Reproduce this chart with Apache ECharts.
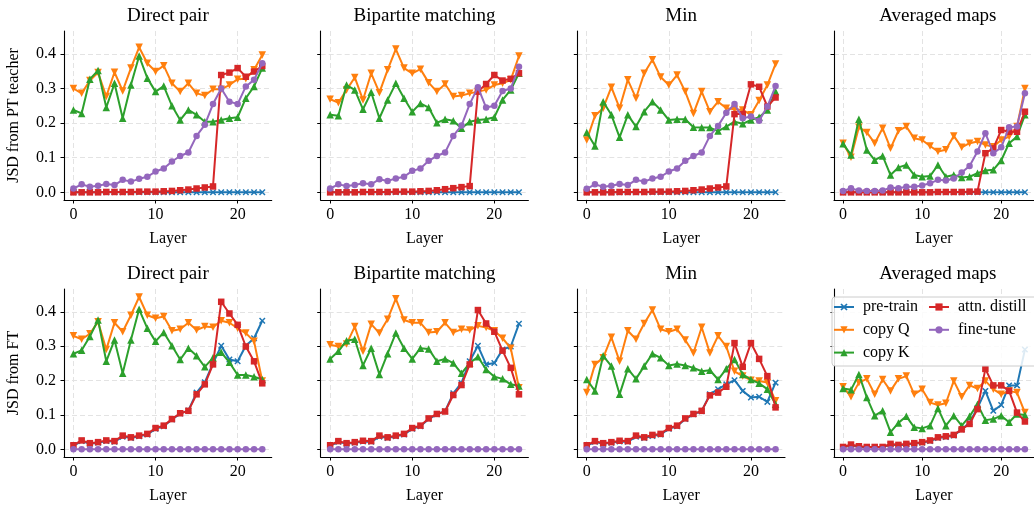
<!DOCTYPE html>
<html>
<head>
<meta charset="utf-8">
<script src="https://cdn.jsdelivr.net/npm/echarts@6/dist/echarts.min.js"></script>
<style>html,body{margin:0;padding:0;background:#fff}#chart{width:1034px;height:505px}</style>
</head>
<body>
<div id="chart"></div>
<script>
const layers = [0,1,2,3,4,5,6,7,8,9,10,11,12,13,14,15,16,17,18,19,20,21,22,23];
const seriesNames = ['pre-train','copy Q','copy K','attn. distill','fine-tune'];
const panelTitles = ['Direct pair','Bipartite matching','Min','Averaged maps'];
const rowLabels = ['JSD from PT teacher','JSD from FT'];
const xTicks = [0,10,20];
const yTicks = [0,0.1,0.2,0.3,0.4];

// Row 1: JSD from PT teacher
const ptDirect_pretrain = [0,0,0,0,0,0,0,0,0,0,0,0,0,0,0,0,0,0,0,0,0,0,0,0];
const ptDirect_copyQ = [0.30,0.286,0.323,0.346,0.277,0.347,0.293,0.359,0.419,0.373,0.349,0.366,0.315,0.291,0.315,0.286,0.28,0.298,0.298,0.31,0.327,0.328,0.354,0.397];
const ptDirect_copyK = [0.238,0.228,0.327,0.352,0.245,0.315,0.214,0.31,0.394,0.33,0.291,0.307,0.25,0.209,0.238,0.224,0.204,0.204,0.209,0.214,0.217,0.272,0.306,0.359];
const ptDirect_attn = [0,0,0,0,0.001,0.001,0.001,0.001,0.002,0.002,0.002,0.003,0.004,0.006,0.008,0.011,0.014,0.017,0.339,0.346,0.359,0.334,0.349,0.365];
const ptDirect_ft = [0.011,0.023,0.016,0.019,0.024,0.021,0.036,0.031,0.039,0.045,0.06,0.069,0.089,0.105,0.115,0.163,0.195,0.255,0.30,0.262,0.255,0.306,0.325,0.373];

const ptBip_pretrain = [0,0,0,0,0,0,0,0,0,0,0,0,0,0,0,0,0,0,0,0,0,0,0,0];
const ptBip_copyQ = [0.269,0.259,0.296,0.332,0.267,0.344,0.288,0.354,0.414,0.359,0.344,0.356,0.317,0.291,0.313,0.277,0.28,0.286,0.291,0.296,0.31,0.315,0.325,0.394];
const ptBip_copyK = [0.224,0.221,0.31,0.296,0.24,0.289,0.214,0.267,0.315,0.272,0.233,0.257,0.245,0.201,0.211,0.207,0.185,0.204,0.209,0.211,0.217,0.267,0.296,0.344];
const ptBip_attn = [0,0,0,0,0.001,0.001,0.001,0.001,0.002,0.002,0.002,0.003,0.004,0.006,0.009,0.012,0.015,0.018,0.291,0.313,0.339,0.323,0.328,0.344];
const ptBip_ft = [0.011,0.023,0.018,0.021,0.026,0.023,0.038,0.033,0.04,0.045,0.062,0.069,0.091,0.105,0.115,0.163,0.193,0.255,0.304,0.245,0.25,0.293,0.30,0.363];

const ptMin_pretrain = [0,0,0,0,0,0,0,0,0,0,0,0,0,0,0,0,0,0,0,0,0,0,0,0];
const ptMin_copyQ = [0.151,0.221,0.243,0.304,0.243,0.325,0.272,0.344,0.383,0.333,0.31,0.339,0.291,0.228,0.291,0.233,0.262,0.243,0.24,0.238,0.224,0.265,0.31,0.371];
const ptMin_copyK = [0.173,0.134,0.262,0.224,0.159,0.224,0.19,0.233,0.262,0.238,0.209,0.211,0.211,0.188,0.187,0.187,0.177,0.19,0.204,0.198,0.209,0.217,0.238,0.291];
const ptMin_attn = [0,0,0,0,0.001,0.001,0.001,0.001,0.002,0.002,0.002,0.003,0.004,0.006,0.008,0.011,0.014,0.017,0.226,0.226,0.312,0.305,0.248,0.274];
const ptMin_ft = [0.01,0.023,0.016,0.019,0.024,0.021,0.036,0.031,0.04,0.045,0.06,0.069,0.091,0.105,0.115,0.163,0.192,0.23,0.255,0.214,0.219,0.207,0.248,0.307];

const ptAvg_pretrain = [0,0,0,0,0,0,0,0,0,0,0,0,0,0,0,0,0,0,0,0,0,0,0,0];
const ptAvg_copyQ = [0.142,0.101,0.188,0.173,0.142,0.185,0.127,0.178,0.19,0.156,0.151,0.134,0.118,0.123,0.163,0.13,0.142,0.147,0.137,0.132,0.151,0.161,0.19,0.30];
const ptAvg_copyK = [0.14,0.108,0.211,0.122,0.093,0.105,0.05,0.072,0.079,0.05,0.045,0.047,0.079,0.045,0.05,0.043,0.045,0.055,0.063,0.065,0.092,0.142,0.161,0.224];
const ptAvg_attn = [0,0,0,0,0,0,0,0,0,0,0,0,0.001,0.001,0.001,0.001,0.002,0.002,0.113,0.127,0.18,0.175,0.175,0.233];
const ptAvg_ft = [0.004,0.012,0.005,0.004,0.004,0.005,0.014,0.012,0.016,0.016,0.02,0.026,0.036,0.034,0.04,0.057,0.076,0.118,0.171,0.113,0.13,0.188,0.19,0.286];

// Row 2: JSD from FT
const ftDirect_pretrain = [0.010,0.024,0.016,0.019,0.024,0.022,0.037,0.033,0.038,0.043,0.06,0.067,0.087,0.104,0.113,0.165,0.195,0.25,0.301,0.261,0.256,0.301,0.323,0.374];
const ftDirect_copyQ = [0.33,0.32,0.336,0.371,0.29,0.368,0.342,0.39,0.443,0.39,0.381,0.386,0.345,0.349,0.368,0.347,0.357,0.355,0.374,0.368,0.352,0.338,0.314,0.199];
const ftDirect_copyK = [0.278,0.288,0.328,0.376,0.256,0.318,0.221,0.318,0.407,0.352,0.314,0.34,0.301,0.261,0.294,0.272,0.24,0.266,0.282,0.253,0.216,0.216,0.211,0.203];
const ftDirect_attn = [0.012,0.026,0.018,0.021,0.026,0.024,0.04,0.035,0.04,0.045,0.062,0.069,0.088,0.105,0.112,0.16,0.189,0.247,0.429,0.395,0.362,0.299,0.256,0.192];
const ftDirect_ft = [0,0,0,0,0,0,0,0,0,0,0,0,0,0,0,0,0,0,0,0,0,0,0,0];

const ftBip_pretrain = [0.010,0.022,0.016,0.019,0.023,0.022,0.037,0.033,0.038,0.043,0.06,0.067,0.088,0.102,0.111,0.163,0.193,0.256,0.301,0.247,0.251,0.29,0.299,0.365];
const ftBip_copyQ = [0.304,0.299,0.306,0.357,0.285,0.364,0.338,0.378,0.438,0.376,0.368,0.368,0.34,0.342,0.368,0.34,0.349,0.347,0.359,0.354,0.345,0.323,0.294,0.179];
const ftBip_copyK = [0.263,0.285,0.316,0.32,0.244,0.294,0.218,0.278,0.338,0.294,0.263,0.294,0.292,0.256,0.263,0.251,0.221,0.251,0.269,0.232,0.211,0.205,0.189,0.184];
const ftBip_attn = [0.012,0.024,0.018,0.021,0.025,0.024,0.04,0.035,0.04,0.045,0.062,0.069,0.09,0.103,0.11,0.158,0.187,0.247,0.405,0.366,0.342,0.287,0.237,0.16];
const ftBip_ft = [0,0,0,0,0,0,0,0,0,0,0,0,0,0,0,0,0,0,0,0,0,0,0,0];

const ftMin_pretrain = [0.010,0.022,0.016,0.019,0.023,0.022,0.037,0.033,0.039,0.043,0.06,0.067,0.088,0.102,0.111,0.16,0.175,0.189,0.201,0.17,0.151,0.153,0.138,0.194];
const ftMin_copyQ = [0.165,0.247,0.266,0.326,0.256,0.345,0.32,0.366,0.405,0.349,0.342,0.349,0.318,0.28,0.355,0.28,0.33,0.299,0.227,0.213,0.201,0.199,0.194,0.141];
const ftMin_copyK = [0.203,0.17,0.272,0.242,0.16,0.234,0.205,0.242,0.278,0.266,0.244,0.248,0.244,0.237,0.227,0.23,0.203,0.234,0.261,0.218,0.203,0.192,0.175,0.131];
const ftMin_attn = [0.012,0.024,0.018,0.021,0.025,0.024,0.04,0.035,0.042,0.045,0.062,0.069,0.09,0.103,0.112,0.157,0.165,0.182,0.309,0.24,0.309,0.263,0.213,0.122];
const ftMin_ft = [0,0,0,0,0,0,0,0,0,0,0,0,0,0,0,0,0,0,0,0,0,0,0,0];

const ftAvg_pretrain = [0.005,0.012,0.007,0.006,0.006,0.006,0.014,0.011,0.014,0.016,0.019,0.024,0.033,0.036,0.04,0.058,0.078,0.12,0.17,0.112,0.129,0.186,0.186,0.29];
const ftAvg_copyQ = [0.182,0.153,0.194,0.205,0.16,0.203,0.17,0.205,0.213,0.16,0.175,0.136,0.129,0.134,0.199,0.153,0.186,0.177,0.199,0.175,0.16,0.17,0.165,0.107];
const ftAvg_copyK = [0.177,0.173,0.218,0.151,0.098,0.112,0.05,0.077,0.096,0.064,0.061,0.069,0.119,0.069,0.098,0.069,0.096,0.131,0.085,0.088,0.098,0.079,0.103,0.1];
const ftAvg_attn = [0.007,0.014,0.009,0.007,0.007,0.007,0.016,0.013,0.016,0.018,0.021,0.026,0.035,0.038,0.042,0.058,0.074,0.117,0.234,0.186,0.186,0.17,0.107,0.081];
const ftAvg_ft = [0,0,0,0,0,0,0,0,0,0,0,0,0,0,0,0,0,0,0,0,0,0,0,0];

const panels = [
  [ptDirect_pretrain, ptDirect_copyQ, ptDirect_copyK, ptDirect_attn, ptDirect_ft],
  [ptBip_pretrain, ptBip_copyQ, ptBip_copyK, ptBip_attn, ptBip_ft],
  [ptMin_pretrain, ptMin_copyQ, ptMin_copyK, ptMin_attn, ptMin_ft],
  [ptAvg_pretrain, ptAvg_copyQ, ptAvg_copyK, ptAvg_attn, ptAvg_ft],
  [ftDirect_pretrain, ftDirect_copyQ, ftDirect_copyK, ftDirect_attn, ftDirect_ft],
  [ftBip_pretrain, ftBip_copyQ, ftBip_copyK, ftBip_attn, ftBip_ft],
  [ftMin_pretrain, ftMin_copyQ, ftMin_copyK, ftMin_attn, ftMin_ft],
  [ftAvg_pretrain, ftAvg_copyQ, ftAvg_copyK, ftAvg_attn, ftAvg_ft]
];

const FONT = "'Liberation Serif', 'Times New Roman', serif";
const colors = ['#1f77b4','#ff7f0e','#2ca02c','#d62728','#9467bd'];
const xSym = 'path://M0,1.6L1.6,0L5,3.4L8.4,0L10,1.6L6.6,5L10,8.4L8.4,10L5,6.6L1.6,10L0,8.4L3.4,5Z';
const downTri = 'path://M0,0L10,0L5,9Z';
const symbols = [xSym, downTri, 'triangle', 'rect', 'circle'];
const symSizes = [6.5, 7.5, 7.5, 6.5, 6.5];

const colLefts = [64, 320.7, 577.3, 834];
const gridW = 207.7;
const rowTops = [31, 289];
const gridH = 169;

const grids = [], xAxes = [], yAxes = [], series = [], graphics = [];
for (let p = 0; p < 8; p++) {
  const r = Math.floor(p / 4), c = p % 4;
  grids.push({left: colLefts[c], top: rowTops[r], width: gridW, height: gridH, containLabel: false});
  xAxes.push({
    type: 'value', gridIndex: p, min: -1.15, max: 24.15,
    name: 'Layer', nameLocation: 'middle', nameGap: 31,
    nameTextStyle: {fontFamily: FONT, fontSize: 16, color: '#000'},
    axisLine: {onZero: false, lineStyle: {color: '#000', width: 1.1}},
    axisTick: {show: true, length: 3.5, lineStyle: {color: '#000', width: 1}, customValues: xTicks},
    axisLabel: {fontFamily: FONT, fontSize: 16, color: '#000', margin: 7, customValues: xTicks},
    splitLine: {show: true, lineStyle: {color: '#e3e3e3', width: 1, type: [5, 3]}}
  });
  yAxes.push({
    type: 'value', gridIndex: p, min: -0.0222, max: 0.4662,
    name: c === 0 ? rowLabels[r] : '', nameLocation: 'middle', nameGap: 42, nameRotate: 90,
    nameTextStyle: {fontFamily: FONT, fontSize: 16, color: '#000'},
    axisLine: {show: true, onZero: false, lineStyle: {color: '#000', width: 1.1}},
    axisTick: {show: true, length: 3.5, lineStyle: {color: '#000', width: 1}, customValues: yTicks},
    axisLabel: {show: c === 0, fontFamily: FONT, fontSize: 16, color: '#000', margin: 8,
      customValues: yTicks, formatter: v => v.toFixed(1)},
    splitLine: {show: true, lineStyle: {color: '#e3e3e3', width: 1, type: [5, 3]}}
  });
  for (let s = 0; s < 5; s++) {
    series.push({
      type: 'line', name: seriesNames[s], xAxisIndex: p, yAxisIndex: p,
      data: layers.map((x, i) => [x, panels[p][s][i]]),
      symbol: symbols[s], symbolSize: symSizes[s], showAllSymbol: true,
      lineStyle: {color: colors[s], width: 2},
      itemStyle: {color: colors[s], borderWidth: 0},
      emphasis: {disabled: true}, z: 2 + s * 0.01
    });
  }
  graphics.push({
    type: 'text', x: colLefts[c] + gridW / 2, y: rowTops[r] - 15, z: 10,
    style: {text: panelTitles[c], fontFamily: FONT, fontSize: 19, fill: '#000', align: 'center', verticalAlign: 'middle'}
  });
}
graphics.push({
  type: 'rect', z: 5, shape: {x: 832, y: 297, width: 210, height: 69, r: 3},
  style: {fill: 'rgba(255,255,255,0.85)', stroke: '#cccccc', lineWidth: 1}
});

const legendBase = {
  orient: 'vertical', itemWidth: 20, itemHeight: 9, itemGap: 6.8, z: 10,
  textStyle: {fontFamily: FONT, fontSize: 16, color: '#000', padding: [0, 0, 0, 4]},
  selectedMode: false, padding: 0
};

const chart = echarts.init(document.getElementById('chart'), null, {renderer: 'canvas'});
chart.setOption({
  animation: false,
  backgroundColor: '#fff',
  grid: grids, xAxis: xAxes, yAxis: yAxes, series: series,
  graphic: graphics,
  legend: [
    Object.assign({}, legendBase, {data: ['pre-train','copy Q','copy K'], left: 833, top: 299}),
    Object.assign({}, legendBase, {data: ['attn. distill','fine-tune'], left: 928, top: 299})
  ]
});
</script>
</body>
</html>
